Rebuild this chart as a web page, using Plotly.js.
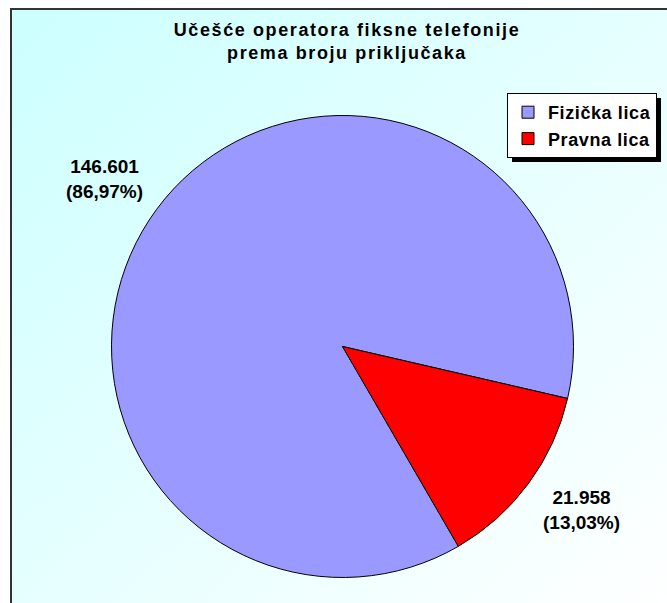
<!DOCTYPE html>
<html>
<head>
<meta charset="utf-8">
<script src="https://cdn.plot.ly/plotly-3.0.1.min.js"></script>
<style>
  html, body { margin: 0; padding: 0; background: #ffffff; }
  #wrap { position: relative; width: 667px; height: 603px; overflow: hidden; }
  #frame { position: absolute; left: 10px; top: 8px; width: 667px; height: 603px;
           border-left: 2px solid #333333; border-top: 2px solid #333333;
           background: linear-gradient(to bottom right, #CCFFFF 0%, #E6FFFF 50%, #FFFFFF 100%); }
  #chart { position: absolute; left: 0; top: 0; width: 667px; height: 603px; }
  .gtitle { letter-spacing: 1.6px; }
  .legendtext { letter-spacing: 0.6px; }
</style>
</head>
<body>
<div id="wrap">
  <div id="frame"></div>
  <div id="chart"></div>
</div>
<script>
// ---- data ----
const categories = ['Fizička lica', 'Pravna lica'];
const values = [146601, 21958];
const colors = ['#9999FF', '#FF0000'];
const titleText = 'Učešće operatora fiksne telefonije<br>prema broju priključaka';

// ---- label text built from the data ----
const total = values.reduce((a, b) => a + b, 0);
function fmtInt(v) { return String(v).replace(/\B(?=(\d{3})+(?!\d))/g, '.'); }
function fmtPct(v) { return (v / total * 100).toFixed(2).replace('.', ',') + '%'; }
const labelTexts = values.map(v => fmtInt(v) + '<br>(' + fmtPct(v) + ')');

// label anchor positions (pixels in the 667x603 page)
const W = 667, H = 603;
const labelPos = [[104, 179], [581, 510]];

const trace = {
  type: 'pie',
  labels: categories,
  values: values,
  sort: false,
  direction: 'clockwise',
  rotation: 149.9,
  marker: { colors: colors, line: { color: '#000000', width: 1 } },
  textinfo: 'none',
  hoverinfo: 'label+value+percent',
  domain: { x: [0.15, 0.877], y: [0.0423, 0.8085] }
};

const layout = {
  width: W, height: H,
  margin: { l: 0, r: 0, t: 0, b: 0 },
  paper_bgcolor: 'rgba(0,0,0,0)',
  plot_bgcolor: 'rgba(0,0,0,0)',
  font: { family: 'Liberation Sans, Arial, sans-serif', color: '#000000' },
  title: {
    text: titleText,
    x: 347 / W, xanchor: 'center',
    y: 1 - 36 / H, yanchor: 'middle',
    font: { family: 'Liberation Sans, Arial, sans-serif', size: 18, weight: 'bold', color: '#000000' }
  },
  showlegend: true,
  legend: {
    x: 657 / W, xanchor: 'right',
    y: 1 - 93 / H, yanchor: 'top',
    bgcolor: '#FFFFFF', bordercolor: '#000000', borderwidth: 1,
    font: { family: 'Liberation Sans, Arial, sans-serif', size: 18, weight: 'bold', color: '#000000' },
    traceorder: 'normal',
    itemwidth: 30
  },
  annotations: labelTexts.map((t, i) => ({
    text: t, showarrow: false,
    xref: 'paper', yref: 'paper',
    x: labelPos[i][0] / W, y: 1 - labelPos[i][1] / H,
    xanchor: 'center', yanchor: 'middle',
    font: { family: 'Liberation Sans, Arial, sans-serif', size: 19, weight: 'bold', color: '#000000' }
  }))
};

function addLegendShadow(gd) {
  const leg = gd.querySelector('g.legend') || gd.querySelector('.legend');
  if (!leg) return;
  const bg = leg.querySelector('rect.bg') || leg.querySelector('rect');
  if (!bg || leg.querySelector('rect.legshadow')) return;
  const sh = bg.cloneNode(false);
  sh.setAttribute('class', 'legshadow');
  const tf = bg.getAttribute('transform') || '';
  sh.setAttribute('transform', 'translate(4,4) ' + tf);
  sh.style.fill = '#000000';
  sh.style.fillOpacity = '1';
  sh.style.stroke = 'none';
  sh.style.strokeWidth = '0';
  bg.parentNode.insertBefore(sh, bg);
}

Plotly.newPlot('chart', [trace], layout, { displayModeBar: false, responsive: false }).then(gd => {
  addLegendShadow(gd);
});
</script>
</body>
</html>
